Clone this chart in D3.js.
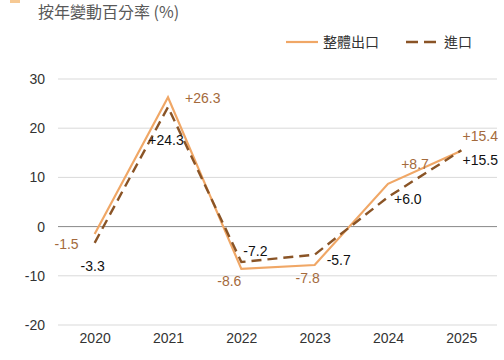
<!DOCTYPE html>
<html><head><meta charset="utf-8">
<script src="https://cdn.jsdelivr.net/npm/d3@7"></script>
<style>
body{margin:0;background:#fff;}
svg{display:block;font-family:"Liberation Sans",Arial,"Noto Sans CJK TC",sans-serif;}
</style></head>
<body><svg id="c" width="504" height="360"></svg>
<script>
const years = ["2020","2021","2022","2023","2024","2025"];
const exportsVals = [-1.5, 26.3, -8.6, -7.8, 8.7, 15.4];
const importsVals = [-3.3, 24.3, -7.2, -5.7, 6.0, 15.5];
const exportLabels = ["-1.5","+26.3","-8.6","-7.8","+8.7","+15.4"];
const importLabels = ["-3.3","+24.3","-7.2","-5.7","+6.0","+15.5"];
const yTicks = [-20,-10,0,10,20,30];
const seriesNames = ["整體出口","進口"];
const title = "按年變動百分率 (%)";

// label offsets (pixels) relative to point: [dx, dy, anchor]
const expOff = [[-16,15,"end"],[17,6,"start"],[-12,17,"middle"],[-7,18,"middle"],[27,-15,"middle"],[19,-10,"middle"]];
const impOff = [[-2,28,"middle"],[-2,38,"middle"],[2,-6,"start"],[12,10,"start"],[6,7,"start"],[19,15,"middle"]];

const svg = d3.select("#c");
const x = d3.scalePoint().domain(years).range([58,498]).padding(0.5);
const y = d3.scaleLinear().domain([-20,30]).range([325,79]);

svg.append("rect").attr("x",10).attr("y",0).attr("width",10).attr("height",3).attr("fill","#F6C994");
svg.append("text").attr("x",38).attr("y",18).attr("font-size",16).attr("fill","#595959")
  .attr("font-family","'Noto Sans CJK TC',sans-serif").text(title);

// grid
svg.append("g").selectAll("line").data(yTicks).join("line")
  .attr("x1",58).attr("x2",497).attr("y1",d=>y(d)).attr("y2",d=>y(d))
  .attr("stroke",d=>d===0?"#888":"#d9d9d9").attr("stroke-width",1);

const yAxis = d3.axisLeft(y).tickValues(yTicks).tickSize(0).tickPadding(0).tickFormat(d=>String(d));
const ya = svg.append("g").attr("transform","translate(45,0)").call(yAxis);
ya.select(".domain").remove();
ya.selectAll("text").attr("font-size",14).attr("fill","#333").attr("font-family","'Liberation Sans',Arial,sans-serif");

const xAxis = d3.axisBottom(x).tickSize(0).tickPadding(0);
const xa = svg.append("g").attr("transform","translate(0,333)").call(xAxis);
xa.select(".domain").remove();
xa.selectAll("text").attr("font-size",14).attr("fill","#333").attr("font-family","'Liberation Sans',Arial,sans-serif");

const line = d3.line().x((d,i)=>x(years[i])).y(d=>y(d));
const expColor = "#F0A766", impColor = "#8A5426";
svg.append("path").datum(exportsVals).attr("d",line).attr("fill","none").attr("stroke",expColor).attr("stroke-width",2.2);
svg.append("path").datum(importsVals).attr("d",line).attr("fill","none").attr("stroke",impColor).attr("stroke-width",2.4).attr("stroke-dasharray","10,6");

const lf = "'Liberation Sans',Arial,sans-serif";
svg.append("g").selectAll("text").data(exportsVals).join("text")
  .attr("x",(d,i)=>x(years[i])+expOff[i][0]).attr("y",(d,i)=>y(d)+expOff[i][1])
  .attr("text-anchor",(d,i)=>expOff[i][2]).attr("font-size",14).attr("font-family",lf)
  .attr("fill","#A46A3C").text((d,i)=>exportLabels[i]);
svg.append("g").selectAll("text").data(importsVals).join("text")
  .attr("x",(d,i)=>x(years[i])+impOff[i][0]).attr("y",(d,i)=>y(d)+impOff[i][1])
  .attr("text-anchor",(d,i)=>impOff[i][2]).attr("font-size",14).attr("font-family",lf)
  .attr("fill","#111").text((d,i)=>importLabels[i]);

// legend
const lg = svg.append("g").attr("font-family","'Noto Sans CJK TC',sans-serif").attr("font-size",14).attr("fill","#333");
lg.append("line").attr("x1",286).attr("x2",318).attr("y1",42).attr("y2",42).attr("stroke",expColor).attr("stroke-width",2.2);
lg.append("text").attr("x",323).attr("y",47).text(seriesNames[0]);
lg.append("line").attr("x1",406).attr("x2",440).attr("y1",42).attr("y2",42).attr("stroke",impColor).attr("stroke-width",2.4).attr("stroke-dasharray","12,6");
lg.append("text").attr("x",444).attr("y",47).text(seriesNames[1]);
</script></body></html>
